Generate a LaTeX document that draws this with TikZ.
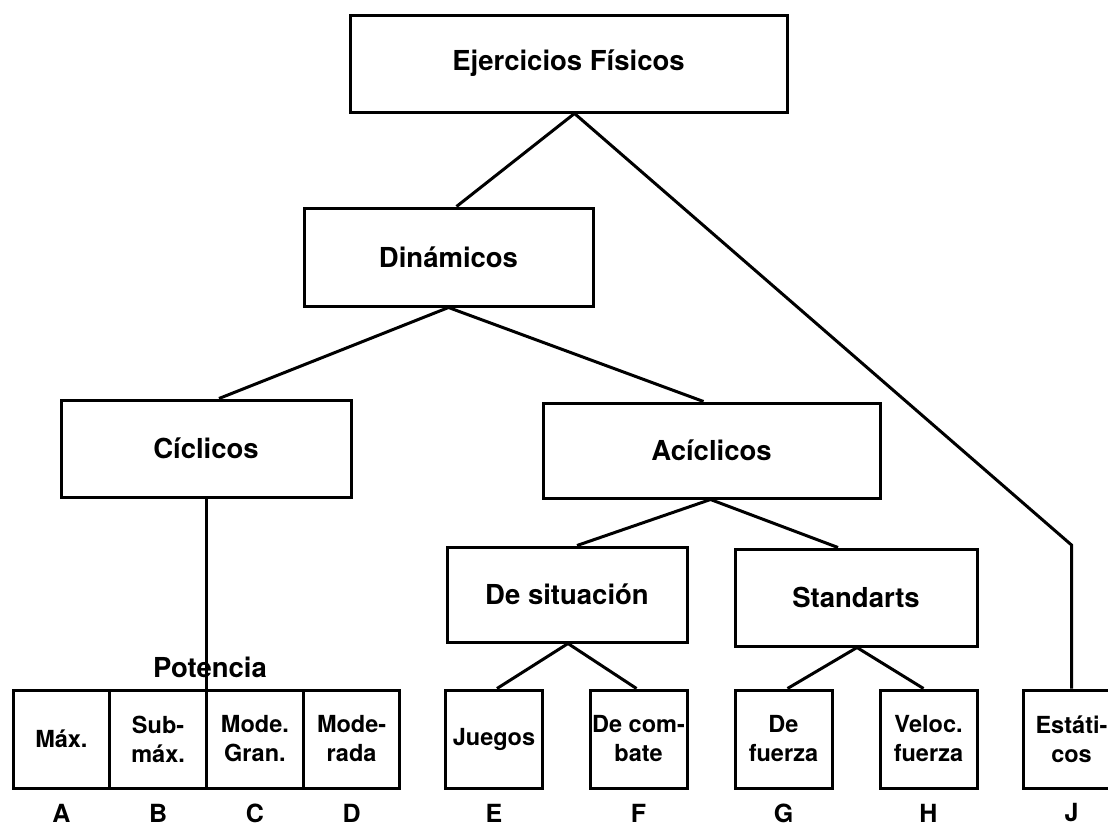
\documentclass[tikz,border=0pt]{standalone}
\usepackage{fontspec}
\setmainfont{TeX Gyre Heros}
\begin{document}
\begin{tikzpicture}[x=1pt,y=-1pt,
  box/.style={draw, line width=3pt, inner sep=0pt, align=center,
    font=\bfseries\fontsize{27.5}{33}\selectfont},
  sbox/.style={draw, line width=3pt, inner sep=0pt, align=center,
    minimum width=97pt, minimum height=98pt,
    font=\bfseries\fontsize{23.5}{29}\selectfont},
  pbox/.style={sbox, minimum width=96.75pt},
  lbl/.style={inner sep=0pt, font=\bfseries\fontsize{25}{30}\selectfont},
  plain/.style={inner sep=0pt, font=\bfseries\fontsize{27.5}{33}\selectfont},
  conn/.style={line width=3pt, line join=miter}]
\useasboundingbox (0,0) rectangle (1108,828);
\clip (0,0) rectangle (1108,828);

% main boxes
\node[box, minimum width=437pt, minimum height=97pt] (top) at (568.5,63.5) {Ejercicios Físicos};
\node[box, minimum width=289pt, minimum height=98pt] (dyn) at (448.5,257) {Dinámicos};
\node[box, minimum width=290pt, minimum height=97pt] (cic) at (206,448.5) {Cíclicos};
\node[box, minimum width=337pt, minimum height=95pt] (aci) at (711.5,450.5) {Acíclicos};
\node[box, minimum width=240pt, minimum height=95pt] (sit) at (567,594.5) {De situación};
\node[box, minimum width=242pt, minimum height=97pt] (std) at (856,597.5) {Standarts};

% Potencia row
\node[plain] (pot) at (210,667) {Potencia};
\node[pbox] (pA) at (61.4,739) {Máx.};
\node[pbox] (pB) at (158.1,739) {Sub-\\máx.};
\node[pbox] (pC) at (254.9,739) {Mode.\\Gran.};
\node[pbox] (pD) at (351.6,739) {Mode-\\rada};

% other leaves
\node[sbox] (jue) at (494,739) {Juegos};
\node[sbox] (com) at (638.5,739) {De com-\\bate};
\node[sbox] (fue) at (783.5,739) {De\\fuerza};
\node[sbox] (vel) at (928.5,739) {Veloc.\\fuerza};
\node[sbox] (est) at (1071.5,739) {Estáti-\\cos};

% letters
\node[lbl] (lA) at (pA.center |- 0,813) {A};
\node[lbl] (lB) at (pB.center |- 0,813) {B};
\node[lbl] (lC) at (pC.center |- 0,813) {C};
\node[lbl] (lD) at (pD.center |- 0,813) {D};
\node[lbl] (lE) at (jue.center |- 0,813) {E};
\node[lbl] (lF) at (com.center |- 0,813) {F};
\node[lbl] (lG) at (fue.center |- 0,813) {G};
\node[lbl] (lH) at (vel.center |- 0,813) {H};
\node[lbl] (lJ) at (est.center |- 0,813) {J};

% connectors
\coordinate (topap) at ([xshift=6pt]top.south);
\coordinate (bend) at (est.north |- 0,545);
\draw[conn] (topap) -- ([xshift=8pt]dyn.north);
\draw[conn] (topap) -- (bend) -- (est.north);
\draw[conn] ([xshift=13pt]cic.north) -- (dyn.south) -- ([xshift=-8pt]aci.north);
\draw[conn] ([xshift=10pt]sit.north) -- ([xshift=-1pt]aci.south) -- ([xshift=-18pt]std.north);
\draw[conn] ([xshift=3pt]jue.north) -- ([xshift=1pt]sit.south) -- ([xshift=-2pt]com.north);
\draw[conn] ([xshift=4pt]fue.north) -- ([xshift=1pt]std.south) -- ([xshift=-5pt]vel.north);
\draw[conn] (cic.south) -- (cic.south |- pC.south);
\end{tikzpicture}
\end{document}
